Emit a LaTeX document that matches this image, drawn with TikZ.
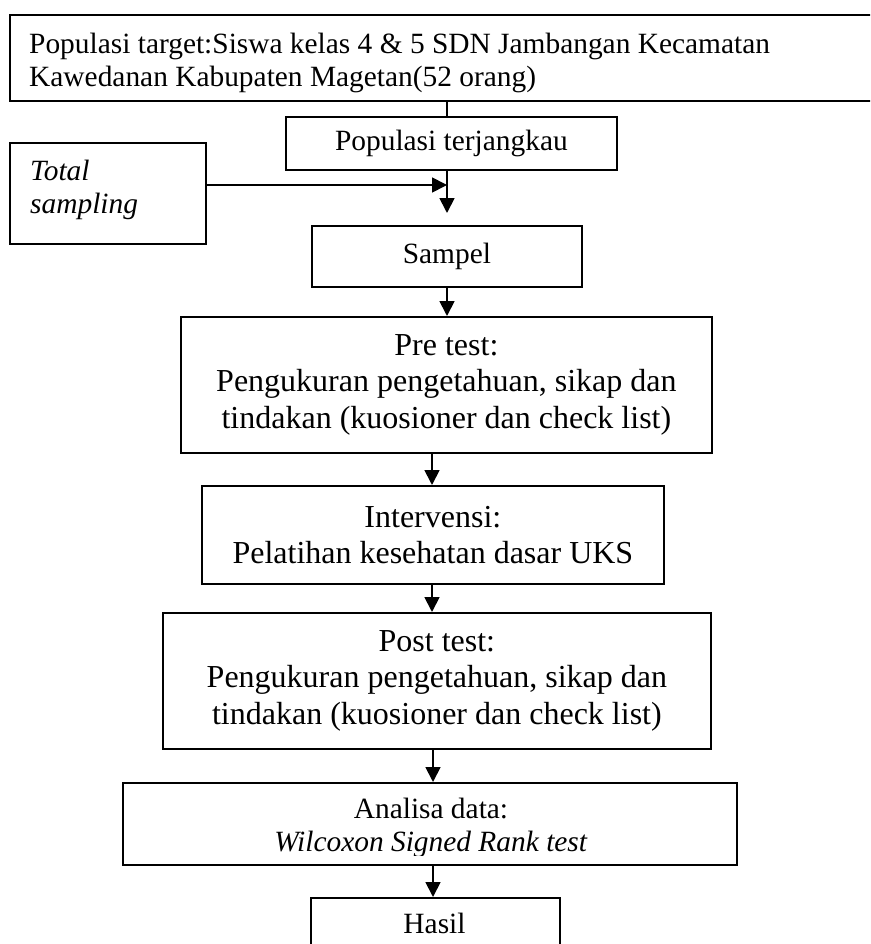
\documentclass[tikz,border=0pt]{standalone}
\usepackage{fontspec}
\setmainfont{Liberation Serif}
\usetikzlibrary{arrows.meta}
\begin{document}
\begin{tikzpicture}[x=1pt,y=-1pt,
  boxnode/.style={draw, line width=1.8pt, inner sep=0pt, anchor=north west},
  txt/.style={inner sep=0pt, font=\fontsize{29.4}{33.2}\selectfont, align=center},
  bigtxt/.style={inner sep=0pt, font=\fontsize{32}{36.5}\selectfont, align=center},
  arr/.style={line width=1.8pt, -{Triangle[length=15pt,width=15pt]}},
  plainline/.style={line width=1.8pt}]
\useasboundingbox (0,0) rectangle (870,944);
\clip (0,0) rectangle (870,944);
% boxes
\node[boxnode, minimum width=900pt, minimum height=86pt] (topbox) at (9,14) {};
\node[txt, align=left, anchor=north west] (toptext) at (29,33)
  {Populasi target:Siswa kelas 4 \& 5 SDN Jambangan Kecamatan\\Kawedanan Kabupaten Magetan(52 orang)};
\node[boxnode, txt, minimum width=331pt, minimum height=53pt] (popter) at (285,116) {Populasi terjangkau};
\node[boxnode, minimum width=196pt, minimum height=101pt] (tsamp) at (9,142) {};
\node[txt, align=left, anchor=north west, font=\fontsize{29.4}{33.2}\selectfont\itshape] (tsamptext) at (30,160) {Total\\sampling};
\node[boxnode, txt, minimum width=270pt, minimum height=61pt] (sampel) at (311,225) {Sampel};
\node[boxnode, bigtxt, minimum width=531pt, minimum height=136pt] (pre) at (180,316)
  {Pre test:\\Pengukuran pengetahuan, sikap dan\\tindakan (kuosioner dan check list)};
\node[boxnode, bigtxt, minimum width=462pt, minimum height=98pt] (interv) at (201,485)
  {Intervensi:\\Pelatihan kesehatan dasar UKS};
\node[boxnode, bigtxt, minimum width=548pt, minimum height=136pt] (post) at (162,612)
  {Post test:\\Pengukuran pengetahuan, sikap dan\\tindakan (kuosioner dan check list)};
\node[boxnode, minimum width=614pt, minimum height=82pt] (analisa) at (122,782) {};
\begin{scope}
  \clip (122,782) rectangle (736,855);
  \node[txt] (analisatext) at (431,828) {Analisa data:\\\textit{Wilcoxon Signed Rank test}};
\end{scope}
\node[boxnode, minimum width=249pt, minimum height=80pt] (hasil) at (310,897) {};
\node[txt, anchor=base] (hasiltext) at (434.5,933) {Hasil};
% connectors
\coordinate (xa) at (447,0);
\coordinate (xb) at (432,0);
\coordinate (xc) at (433,0);
\coordinate (tip1) at (447,213);
\coordinate (join) at (447,185);
\draw[plainline] (topbox.south -| xa) -- (popter.north -| xa);
\draw[arr] (popter.south -| xa) -- (tip1);
\draw[arr] (tsamp.east |- join) -- (join);
\draw[arr] (sampel.south -| xa) -- (pre.north -| xa);
\draw[arr] (pre.south -| xb) -- (interv.north -| xb);
\draw[arr] (interv.south -| xb) -- (post.north -| xb);
\draw[arr] (post.south -| xc) -- (analisa.north -| xc);
\draw[arr] (analisa.south -| xc) -- (hasil.north -| xc);
\end{tikzpicture}
\end{document}
